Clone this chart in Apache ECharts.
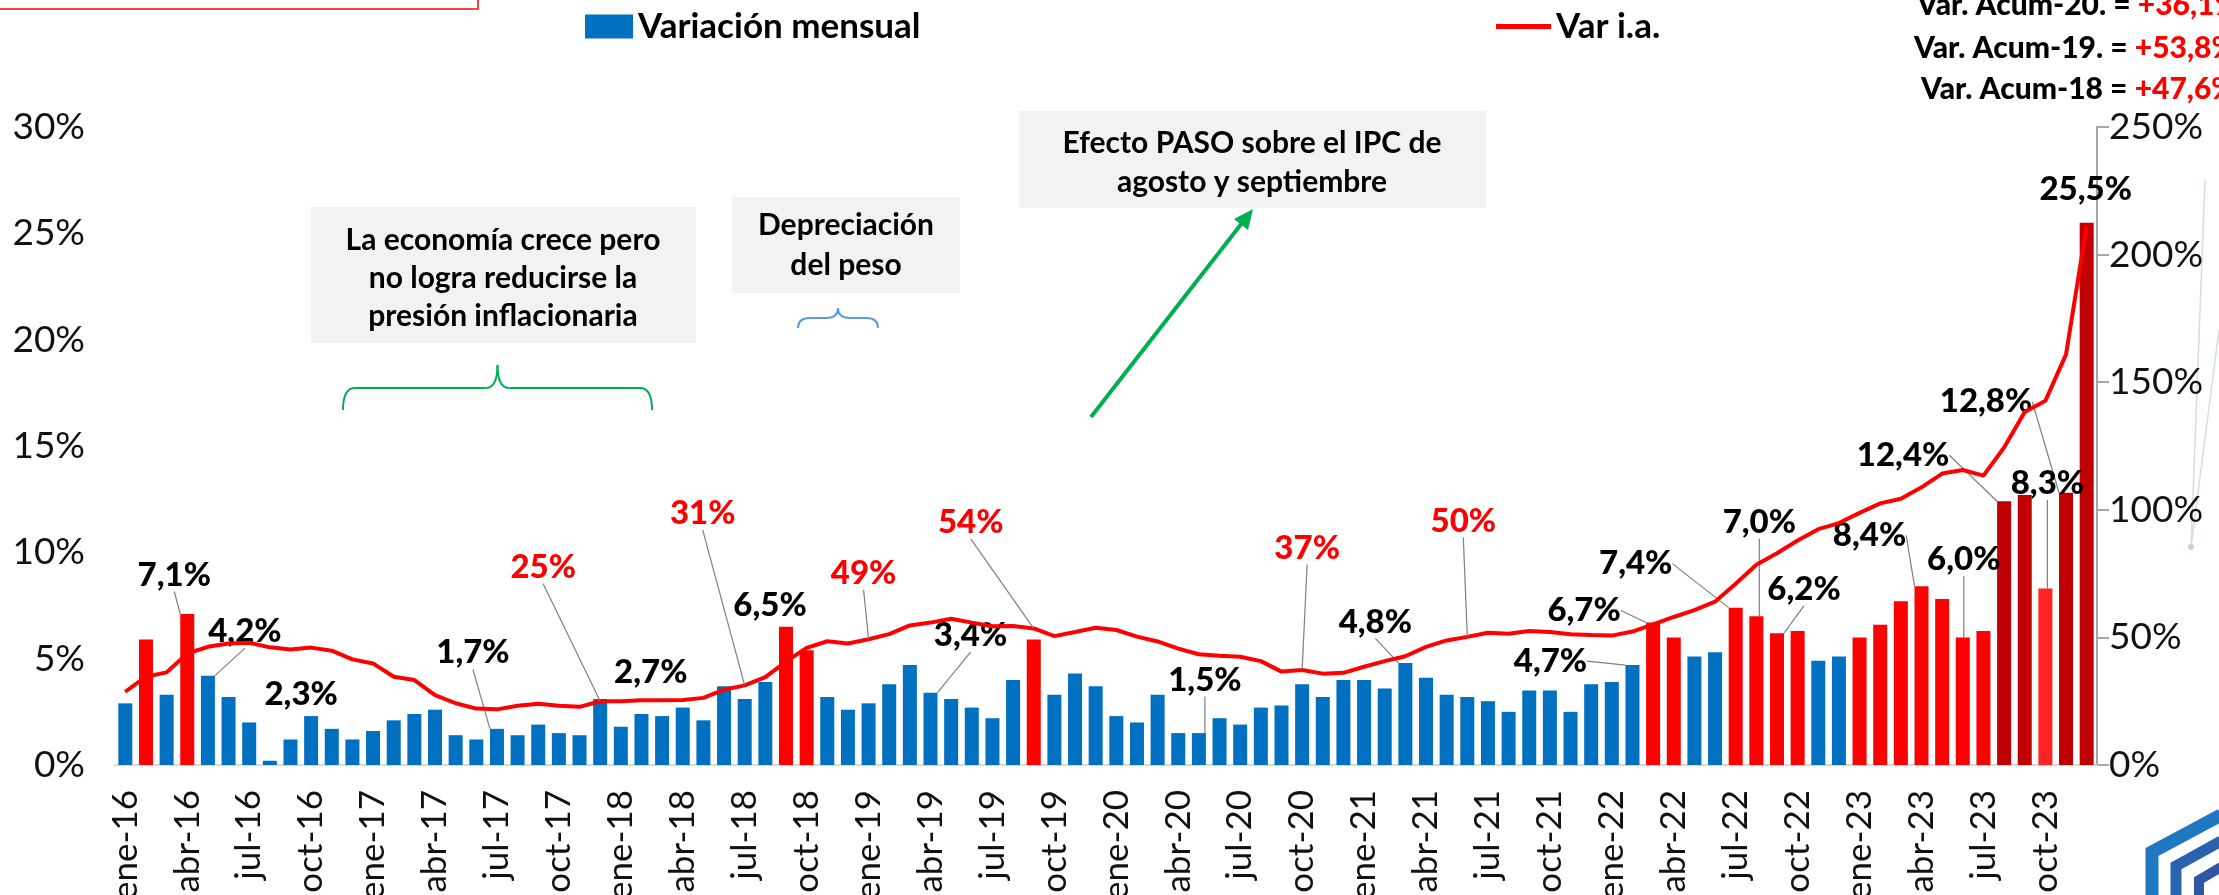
<!DOCTYPE html>
<html>
<head>
<meta charset="utf-8">
<title>IPC - Variación mensual e interanual</title>
<script src="https://cdn.jsdelivr.net/npm/echarts/dist/echarts.min.js"></script>
<style>
    html, body { margin: 0; padding: 0; background: #fff; }
    #main { width: 2219px; height: 895px; }
</style>
</head>
<body>
<div id="main"></div>
<script>
    // categorias: ene-16 ... dic-23
    var anios = ['16', '17', '18', '19', '20', '21', '22', '23'];
    var nombresMes = ['ene', 'feb', 'mar', 'abr', 'may', 'jun', 'jul', 'ago', 'sep', 'oct', 'nov', 'dic'];
    var meses = [];
    for (var a = 0; a < anios.length; a++) {
        for (var m = 0; m < nombresMes.length; m++) {
            meses.push(nombresMes[m] + '-' + anios[a]);
        }
    }

    // variacion mensual (%)
    var mensual16 = [2.9, 5.9, 3.3, 7.1, 4.2, 3.2, 2.0, 0.2, 1.2, 2.3, 1.7, 1.2];
    var mensual17 = [1.6, 2.1, 2.4, 2.6, 1.4, 1.2, 1.7, 1.4, 1.9, 1.5, 1.4, 3.1];
    var mensual18 = [1.8, 2.4, 2.3, 2.7, 2.1, 3.7, 3.1, 3.9, 6.5, 5.4, 3.2, 2.6];
    var mensual19 = [2.9, 3.8, 4.7, 3.4, 3.1, 2.7, 2.2, 4.0, 5.9, 3.3, 4.3, 3.7];
    var mensual20 = [2.3, 2.0, 3.3, 1.5, 1.5, 2.2, 1.9, 2.7, 2.8, 3.8, 3.2, 4.0];
    var mensual21 = [4.0, 3.6, 4.8, 4.1, 3.3, 3.2, 3.0, 2.5, 3.5, 3.5, 2.5, 3.8];
    var mensual22 = [3.9, 4.7, 6.7, 6.0, 5.1, 5.3, 7.4, 7.0, 6.2, 6.3, 4.9, 5.1];
    var mensual23 = [6.0, 6.6, 7.7, 8.4, 7.8, 6.0, 6.3, 12.4, 12.7, 8.3, 12.8, 25.5];

    // variacion interanual (%)
    var interanual16 = [28.7, 34.6, 36.3, 43.7, 46.3, 47.6, 47.9, 46.1, 45.3, 46.0, 44.8, 41.4];
    var interanual17 = [39.8, 34.6, 33.3, 27.4, 24.2, 22.1, 21.8, 23.2, 24.0, 23.2, 22.8, 25.0];
    var interanual18 = [25.0, 25.4, 25.4, 25.5, 26.3, 29.5, 31.2, 34.4, 40.5, 45.9, 48.5, 47.6];
    var interanual19 = [49.3, 51.3, 54.7, 55.8, 57.3, 55.8, 54.4, 54.5, 53.5, 50.5, 52.1, 53.8];
    var interanual20 = [52.9, 50.3, 48.4, 45.6, 43.4, 42.8, 42.4, 40.7, 36.6, 37.2, 35.8, 36.1];
    var interanual21 = [38.5, 40.7, 42.6, 46.3, 48.8, 50.2, 51.8, 51.4, 52.5, 52.1, 51.2, 50.9];
    var interanual22 = [50.7, 52.3, 55.1, 58.0, 60.7, 64.0, 71.0, 78.5, 83.0, 88.0, 92.4, 94.8];
    var interanual23 = [98.8, 102.5, 104.3, 108.8, 114.2, 115.6, 113.4, 124.4, 138.3, 142.7, 160.9, 211.4];

    var mensual = [].concat(mensual16, mensual17, mensual18, mensual19, mensual20, mensual21, mensual22, mensual23);
    var interanual = [].concat(interanual16, interanual17, interanual18, interanual19, interanual20, interanual21, interanual22, interanual23);

    // meses destacados
    var mesesRojos = ['feb-16', 'abr-16', 'sep-18', 'oct-18', 'sep-19', 'mar-22', 'abr-22', 'jul-22', 'ago-22',
        'sep-22', 'oct-22', 'ene-23', 'feb-23', 'mar-23', 'abr-23', 'may-23', 'jun-23', 'jul-23'];
    var mesesRojoClaro = ['oct-23'];
    var mesesRojoOscuro = ['ago-23', 'sep-23', 'nov-23', 'dic-23'];

    var acumulados = [
        ['Var. Acum-20. = ', '+36,1%'],
        ['Var. Acum-19. = ', '+53,8%'],
        ['Var. Acum-18 = ', '+47,6%']
    ];

    // ubicacion de etiquetas (desplazamiento en px respecto de la marca)
    var posBarra = {
        'abr-16': [-13, -39], 'may-16': [37, -44], 'oct-16': [-10, -22], 'jul-17': [-24, -76],
        'abr-18': [-32, -35], 'sep-18': [-16, -21], 'abr-19': [40, -57], 'may-20': [6, -53],
        'mar-21': [-30, -41], 'feb-22': [-82, -4], 'mar-22': [-69, -12], 'jul-22': [-100, -44],
        'ago-22': [3, -94], 'sep-22': [27, -44], 'abr-23': [-52, -51], 'jun-23': [1, -78],
        'ago-23': [-101, -46], 'oct-23': [2, -105], 'nov-23': [-80, -91], 'dic-23': [-1, -33]
    };
    var sinGuia = ['oct-16', 'abr-18', 'sep-18', 'dic-23'];
    var posLinea = {
        'dic-17': [-57, -134], 'jul-18': [-42, -172], 'ene-19': [-5, -66],
        'sep-19': [-63, -106], 'oct-20': [5, -122], 'jun-21': [-4, -116]
    };

    var fuente = 'Lato';

    function colorBarra(mes) {
        if (mesesRojoOscuro.indexOf(mes) >= 0) return '#C00000';
        if (mesesRojoClaro.indexOf(mes) >= 0) return '#FF2323';
        if (mesesRojos.indexOf(mes) >= 0) return '#FF0000';
        return '#0070C0';
    }

    // llave horizontal con punta hacia arriba
    function llave(x1, x2, yPunta, yMedio, yFin, color) {
        var xm = (x1 + x2) / 2, r = 12;
        var st = {fill: 'none', stroke: color, lineWidth: 2};
        return [
            {type: 'bezierCurve', shape: {x1: x1, y1: yFin, cpx1: x1, cpy1: yMedio, x2: x1 + r, y2: yMedio}, style: st},
            {type: 'line', shape: {x1: x1 + r, y1: yMedio, x2: xm - r, y2: yMedio}, style: st},
            {type: 'bezierCurve', shape: {x1: xm - r, y1: yMedio, cpx1: xm, cpy1: yMedio, x2: xm, y2: yPunta}, style: st},
            {type: 'bezierCurve', shape: {x1: xm, y1: yPunta, cpx1: xm, cpy1: yMedio, x2: xm + r, y2: yMedio}, style: st},
            {type: 'line', shape: {x1: xm + r, y1: yMedio, x2: x2 - r, y2: yMedio}, style: st},
            {type: 'bezierCurve', shape: {x1: x2 - r, y1: yMedio, cpx1: x2, cpy1: yMedio, x2: x2, y2: yFin}, style: st}
        ];
    }

    function textoAcum(par, x, y) {
        return {type: 'text', x: x, y: y, style: {
            text: '{n|' + par[0] + '}{r|' + par[1] + '}',
            textVerticalAlign: 'middle',
            rich: {n: {font: '900 30px Lato', fill: '#000'}, r: {font: '900 30px Lato', fill: '#FF0000'}}
        }};
    }

    var datosBarra = mensual.map(function (v, i) {
        var item = {value: v, itemStyle: {color: colorBarra(meses[i])}};
        if (posBarra[meses[i]]) {
            item.label = {show: true};
            if (sinGuia.indexOf(meses[i]) >= 0) item.labelLine = {show: false};
        }
        return item;
    });

    var datosLinea = interanual.map(function (v, i) {
        var item = {value: v};
        if (posLinea[meses[i]]) item.label = {show: true};
        return item;
    });

    var elementos = [
        // recuadro rojo recortado arriba a la izquierda
        {type: 'rect', shape: {x: -10, y: -40, width: 488, height: 49},
            style: {fill: 'none', stroke: '#FF4040', lineWidth: 2}},
        textoAcum(acumulados[0], 1917, 5),
        textoAcum(acumulados[1], 1914, 48),
        textoAcum(acumulados[2], 1921, 89),
        // cuadros de comentario
        {type: 'rect', shape: {x: 311, y: 207, width: 385, height: 136}, style: {fill: '#F2F2F2'}},
        {type: 'text', x: 503, y: 278, style: {
            text: 'La economía crece pero\nno logra reducirse la\npresión inflacionaria',
            font: 'bold 30px Lato', fill: '#000', textAlign: 'center', textVerticalAlign: 'middle', lineHeight: 38
        }},
        {type: 'rect', shape: {x: 732, y: 197, width: 228, height: 96}, style: {fill: '#F2F2F2'}},
        {type: 'text', x: 846, y: 245, style: {
            text: 'Depreciación\ndel peso',
            font: 'bold 30px Lato', fill: '#000', textAlign: 'center', textVerticalAlign: 'middle', lineHeight: 40
        }},
        {type: 'rect', shape: {x: 1019, y: 111, width: 467, height: 97}, style: {fill: '#F2F2F2'}},
        {type: 'text', x: 1252, y: 163, style: {
            text: 'Efecto PASO sobre el IPC de\nagosto y septiembre',
            font: 'bold 30px Lato', fill: '#000', textAlign: 'center', textVerticalAlign: 'middle', lineHeight: 39
        }},
        // flecha verde
        {type: 'line', shape: {x1: 1091, y1: 417, x2: 1242, y2: 223}, style: {stroke: '#00B050', lineWidth: 4}},
        {type: 'polygon', shape: {points: [[1253, 209], [1248, 230], [1234, 219]]}, style: {fill: '#00B050'}},
        // trazos tenues de fondo (derecha)
        {type: 'polyline', shape: {points: [[2205, 180], [2191, 547], [2219, 330]]},
            style: {fill: 'none', stroke: '#D3DEE2', lineWidth: 1.5}},
        {type: 'circle', shape: {cx: 2191, cy: 547, r: 3}, style: {fill: '#C5D3D8'}},
        // logo
        {type: 'polyline', shape: {points: [[2152, 895], [2152, 852], [2221, 815]]},
            style: {fill: 'none', stroke: '#1F78C1', lineWidth: 13}},
        {type: 'polyline', shape: {points: [[2176, 895], [2176, 866], [2221, 841]]},
            style: {fill: 'none', stroke: '#2A62AE', lineWidth: 11}},
        {type: 'polyline', shape: {points: [[2199, 895], [2199, 880], [2221, 867]]},
            style: {fill: 'none', stroke: '#2F56A2', lineWidth: 10}}
    ].concat(llave(343, 652, 365, 388, 410, '#00B050'), llave(798, 878, 308, 318, 328, '#5B9BD5'));

    var myChart = echarts.init(document.getElementById('main'));

    var option = {
        animation: false,
        backgroundColor: '#fff',
        grid: {left: 115, right: 122, top: 127, bottom: 130, containLabel: false, outerBoundsMode: 'none'},
        legend: [
            {
                data: [{name: 'Variación mensual', icon: 'rect'}],
                left: 580, top: 4, itemWidth: 48, itemHeight: 24, selectedMode: false,
                textStyle: {fontFamily: fuente, fontSize: 35, fontWeight: 'bold', color: '#000'}
            },
            {
                data: [{name: 'Var i.a.', icon: 'rect'}],
                left: 1491, top: 4, itemWidth: 55, itemHeight: 5, selectedMode: false,
                textStyle: {fontFamily: fuente, fontSize: 35, fontWeight: 'bold', color: '#000'}
            }
        ],
        xAxis: {
            type: 'category',
            data: meses,
            axisTick: {show: false},
            axisLine: {lineStyle: {color: '#D9D9D9', width: 2}},
            axisLabel: {
                interval: 2, rotate: 90, margin: 25,
                fontFamily: fuente, fontSize: 35, color: '#111'
            }
        },
        yAxis: [
            {
                type: 'value', min: 0, max: 30, interval: 5,
                splitLine: {show: false},
                axisLine: {show: false},
                axisTick: {show: false},
                axisLabel: {formatter: '{value}%', margin: 30, fontFamily: fuente, fontSize: 37, color: '#111'}
            },
            {
                type: 'value', min: 0, max: 250, interval: 50, position: 'right',
                splitLine: {show: false},
                axisLine: {show: true, lineStyle: {color: '#A6A6A6', width: 2}},
                axisTick: {show: true, length: 12, lineStyle: {color: '#A6A6A6', width: 2}},
                axisLabel: {formatter: '{value}%', margin: 12, fontFamily: fuente, fontSize: 37, color: '#111'}
            }
        ],
        series: [
            {
                name: 'Variación mensual',
                type: 'bar',
                barWidth: 14,
                itemStyle: {color: '#0070C0'},
                data: datosBarra,
                label: {
                    show: false,
                    position: 'top',
                    fontFamily: fuente, fontSize: 33, fontWeight: 900, color: '#000',
                    formatter: function (p) {
                        return p.value.toFixed(1).replace('.', ',') + '%';
                    }
                },
                labelLine: {show: true, lineStyle: {color: '#7F7F7F', width: 1.2}},
                labelLayout: function (p) {
                    var off = posBarra[meses[p.dataIndex]];
                    if (!off) return {};
                    return {
                        x: p.rect.x + p.rect.width / 2 + off[0],
                        y: p.rect.y + off[1],
                        align: 'center', verticalAlign: 'middle'
                    };
                }
            },
            {
                name: 'Var i.a.',
                type: 'line',
                yAxisIndex: 1,
                data: datosLinea,
                symbol: 'circle',
                symbolSize: 1,
                showSymbol: true,
                showAllSymbol: true,
                itemStyle: {color: '#FF0000'},
                lineStyle: {color: '#FF0000', width: 4},
                label: {
                    show: false,
                    position: 'inside',
                    fontFamily: fuente, fontSize: 33, fontWeight: 900, color: '#FF0000',
                    formatter: function (p) {
                        return Math.round(p.value) + '%';
                    }
                },
                labelLine: {show: true, lineStyle: {color: '#7F7F7F', width: 1.2}},
                labelLayout: function (p) {
                    var off = posLinea[meses[p.dataIndex]];
                    if (!off) return {};
                    return {
                        x: p.rect.x + p.rect.width / 2 + off[0],
                        y: p.rect.y + p.rect.height / 2 + off[1],
                        align: 'center', verticalAlign: 'middle'
                    };
                }
            }
        ],
        graphic: {elements: elementos}
    };

    myChart.setOption(option);
</script>
</body>
</html>
